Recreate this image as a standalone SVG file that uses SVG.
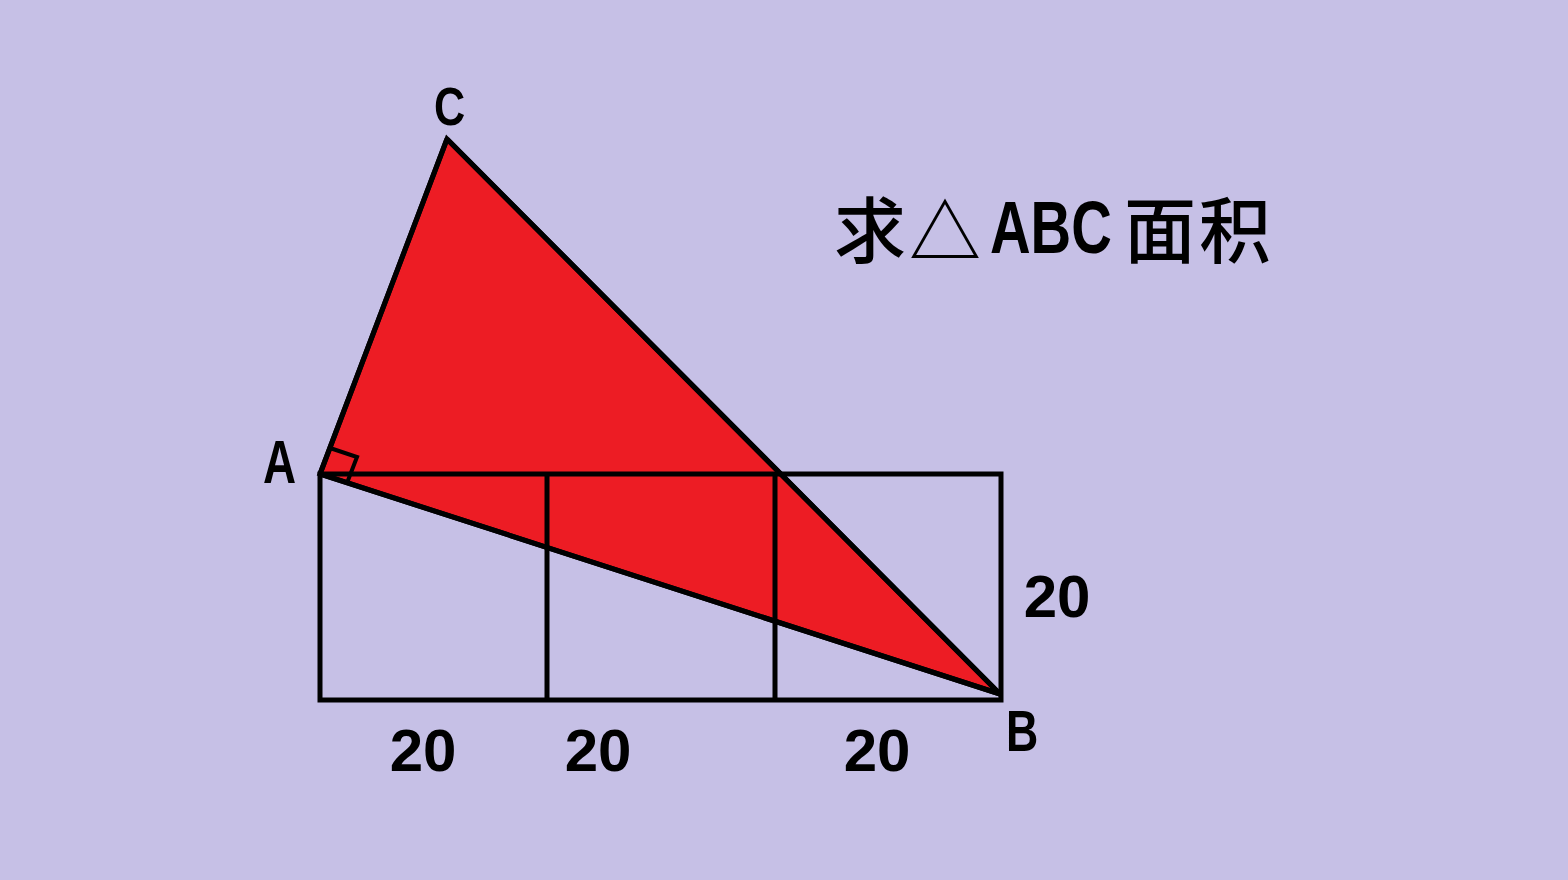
<svg xmlns="http://www.w3.org/2000/svg" width="1568" height="880" viewBox="0 0 1568 880">
<style>
.ln{fill:none;stroke:#000;stroke-width:5;stroke-linejoin:miter}
.tri{fill:#ED1C24;stroke:#000;stroke-width:5;stroke-linejoin:miter}
.lbl{font-family:"Liberation Sans",Arial,sans-serif;font-weight:bold;fill:#000}
.num{font-family:"Liberation Sans",Arial,sans-serif;font-weight:bold;font-size:60px;fill:#000;text-anchor:middle}
.cjk{font-family:"Noto Sans CJK SC","Noto Sans CJK JP",sans-serif;font-size:72px;fill:#000;font-weight:500}
</style>
<rect x="0" y="0" width="1568" height="880" fill="#C6C0E6"/>
<g id="triangle">
<polygon points="320,474 447,139 1000,694" class="tri"/>
<polyline points="330,448 357,457 347,483" class="ln" style="stroke-width:4"/>
</g>
<g id="squares">
<rect x="320" y="474" width="681" height="226" class="ln"/>
<line x1="547" y1="474" x2="547" y2="700" class="ln"/>
<line x1="775" y1="474" x2="775" y2="700" class="ln"/>
</g>
<g id="connectors">
<line x1="320" y1="474" x2="1000" y2="694" class="ln"/>
<line x1="447" y1="139" x2="1000" y2="694" class="ln"/>
<line x1="320" y1="474" x2="447" y2="139" class="ln"/>
</g>
<g id="labels">
<text class="lbl" transform="translate(263,483) scale(0.74,1)" font-size="62">A</text>
<text class="lbl" transform="translate(1006,751) scale(0.77,1)" font-size="58">B</text>
<text class="lbl" transform="translate(434,125) scale(0.8,1)" font-size="54">C</text>
<text class="num" x="423" y="771">20</text>
<text class="num" x="598" y="771">20</text>
<text class="num" x="877" y="771">20</text>
<text class="num" x="1057" y="617">20</text>
</g>
<g id="title">
<text class="cjk" x="834" y="257">求</text>
<text class="cjk" x="909" y="258" font-size="82">△</text>
<text class="lbl" transform="translate(990,253) scale(0.75,1)" font-size="75">ABC</text>
<text class="cjk" x="1124" y="257">面</text>
<text class="cjk" x="1199" y="257">积</text>
</g>
</svg>
